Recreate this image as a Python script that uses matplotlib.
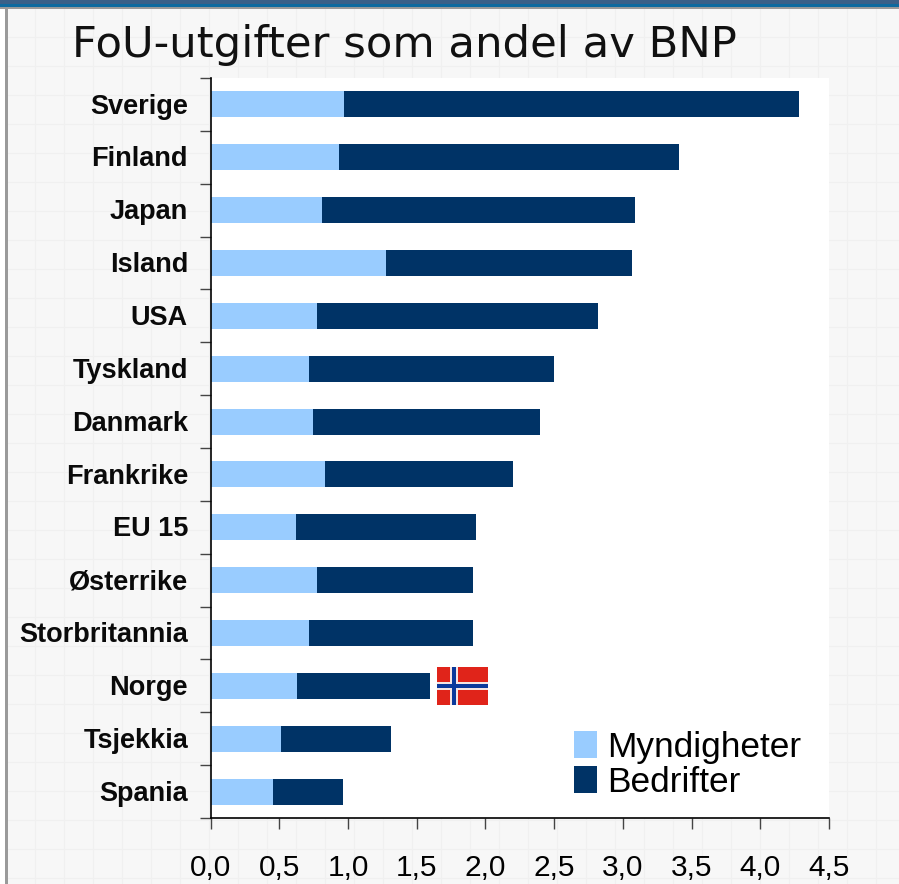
import matplotlib
matplotlib.use('Agg')
import matplotlib.pyplot as plt
from matplotlib.patches import Rectangle

land = ['Sverige', 'Finland', 'Japan', 'Island', 'USA', 'Tyskland', 'Danmark', 'Frankrike',
        'EU 15', 'Østerrike', 'Storbritannia', 'Norge', 'Tsjekkia', 'Spania']
myndigheter = [0.97, 0.935, 0.81, 1.28, 0.775, 0.72, 0.745, 0.83, 0.62, 0.775, 0.715, 0.63, 0.51, 0.455]
bedrifter = [3.31, 2.475, 2.28, 1.79, 2.045, 1.78, 1.655, 1.37, 1.31, 1.135, 1.195, 0.97, 0.80, 0.51]
xticks = [0.0, 0.5, 1.0, 1.5, 2.0, 2.5, 3.0, 3.5, 4.0, 4.5]
xticklabels = ['0,0', '0,5', '1,0', '1,5', '2,0', '2,5', '3,0', '3,5', '4,0', '4,5']

W, H = 899, 884
LYS = '#99ccff'
MORK = '#003366'

fig = plt.figure(figsize=(W / 100, H / 100), dpi=100, facecolor='#f7f7f7')

# bakgrunn: tynn stripe oppe, graa kant, svakt rutenett
bg = fig.add_axes([0, 0, 1, 1])
bg.set_xlim(0, W)
bg.set_ylim(H, 0)
bg.axis('off')
for gx in range(35, W, 29):
    bg.axvline(gx, color='#f0f0f0', lw=0.8, zorder=1)
for gy in range(37, H, 29):
    bg.axhline(gy, color='#f0f0f0', lw=0.8, zorder=1)
bg.add_patch(Rectangle((0, 9), 5, H, color='white', lw=0, zorder=2))
bg.add_patch(Rectangle((5, 7), 2.5, H, color='#9a9a9a', lw=0, zorder=2))
bg.add_patch(Rectangle((0, 0), W, 4, color='#3a6088', lw=0, zorder=2))
bg.add_patch(Rectangle((0, 4), W, 3, color='#0e6a9f', lw=0, zorder=2))
bg.add_patch(Rectangle((0, 7), W, 2, color='#9a9a9a', lw=0, zorder=2))

# plottet
ax = fig.add_axes([210.5 / W, 1 - 818 / H, (829 - 210.5) / W, (818 - 78) / H])
ypos = list(range(len(land)))
ax.barh(ypos, myndigheter, height=0.49, color=LYS, label='Myndigheter')
ax.barh(ypos, bedrifter, height=0.49, left=myndigheter, color=MORK, label='Bedrifter')
ax.set_xlim(0, 4.5)
ax.set_ylim(len(land) - 0.5, -0.5)
ax.set_facecolor('white')

for s in ['top', 'right']:
    ax.spines[s].set_visible(False)
ax.spines['left'].set_linewidth(1.2)
ax.spines['bottom'].set_linewidth(1.2)

ax.set_xticks(xticks)
ax.set_xticklabels(xticklabels, fontsize=21.5, family='Liberation Sans')
ax.tick_params(axis='x', length=8, width=1, color='#444444', pad=18)
ax.set_yticks([i - 0.5 for i in range(len(land) + 1)])
ax.set_yticklabels([])
ax.tick_params(axis='y', length=8, width=1, color='#444444')
for i, navn in enumerate(land):
    ax.annotate(navn, (0, i), xytext=(-16.2, -1.5), textcoords='offset points', ha='right', va='center',
                fontsize=19.5, fontweight='bold', family='Liberation Sans', color='#0a0a0a')

ax.legend(loc='lower left', bbox_to_anchor=(567 / W, 1 - 806 / H), bbox_transform=fig.transFigure,
          frameon=False, prop={'family': 'Liberation Sans', 'size': 25.4}, handlelength=0.66,
          handleheight=0.8, handletextpad=0.28, labelspacing=0.05, borderpad=0.2, borderaxespad=0)

fig.text(72 / W, 1 - 45 / H, 'FoU-utgifter som andel av BNP', fontsize=31.2, va='center', ha='left',
         family='DejaVu Sans', color='#111111')

# norsk flagg ved siden av Norge-stolpen
fl = fig.add_axes([437 / W, 1 - 705 / H, 51 / W, 38 / H])
fl.set_xlim(0, 22)
fl.set_ylim(0, 16)
fl.axis('off')
fl.add_patch(Rectangle((0, 0), 22, 16, color='#e0241a', lw=0))
fl.add_patch(Rectangle((5.6, 0), 3.6, 16, color='#f4e6e4', lw=0))
fl.add_patch(Rectangle((0, 6.2), 22, 3.6, color='#f4e6e4', lw=0))
fl.add_patch(Rectangle((6.4, 0), 2, 16, color='#0b3a9c', lw=0))
fl.add_patch(Rectangle((0, 7), 22, 2, color='#0b3a9c', lw=0))

fig.savefig('out.png', dpi=100, facecolor=fig.get_facecolor())
